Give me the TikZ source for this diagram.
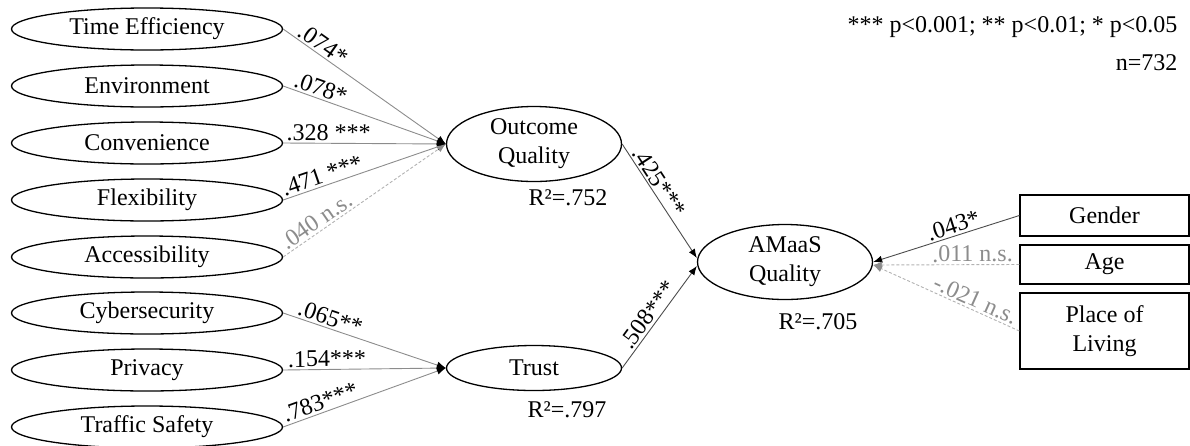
\documentclass[tikz,border=0pt]{standalone}
\usepackage{fontspec}
\setmainfont{Liberation Serif}
\usetikzlibrary{shapes.geometric,arrows.meta}
\begin{document}
\begin{tikzpicture}[x=1pt,y=-1pt,
  every node/.style={font=\fontsize{24}{29}\selectfont},
  lat/.style={ellipse,draw,line width=1.3pt,inner sep=0pt,minimum width=271pt,minimum height=42pt},
  big/.style={ellipse,draw,line width=1.3pt,inner sep=0pt,minimum width=175pt,minimum height=75pt,align=center},
  ctl/.style={rectangle,draw,line width=1.3pt,inner sep=0pt,minimum width=169pt,align=center},
  sig/.style={draw=black!45,line width=0.9pt,-{Latex[length=9pt,width=7pt,color=black]}},
  sigd/.style={draw=black!70,line width=0.9pt,-{Latex[length=9pt,width=7pt,color=black]}},
  ns/.style={draw=black!30,dash pattern=on 3pt off 2pt,line width=0.9pt,-{Latex[length=9pt,width=7pt,color=black!45]}},
  lab/.style={sloped,above,inner sep=2pt},
  nslab/.style={sloped,above,inner sep=2pt,text=black!45}
]
\useasboundingbox (0,0) rectangle (1190,445);

% left latent variables
\node[lat] (te) at (147,29)  {Time Efficiency};
\node[lat] (en) at (147,86)  {Environment};
\node[lat] (cv) at (147,143) {Convenience};
\node[lat] (fl) at (147,200) {Flexibility};
\node[lat] (ac) at (147,257) {Accessibility};
\node[lat] (cy) at (147,313) {Cybersecurity};
\node[lat] (pr) at (147,370) {Privacy};
\node[lat] (ts) at (147,427) {Traffic Safety};

% central constructs
\node[big] (oq) at (534,144) {Outcome\\Quality};
\node[ellipse,draw,line width=1.3pt,inner sep=0pt,minimum width=175pt,minimum height=45pt] (tr) at (534,368) {Trust};
\node[big] (am) at (785,262) {AMaaS\\Quality};

% controls
\node[ctl,minimum height=41pt] (ge) at (1104.5,215.5) {Gender};
\node[ctl,minimum height=39pt] (ag) at (1104.5,264.5) {Age};
\node[ctl,minimum height=76pt] (pl) at (1104.5,331) {Place of\\Living};

% R squared
\node (r1) at (568,198) {R²=.752};
\node (r2) at (567,410) {R²=.797};
\node (r3) at (818,322) {R²=.705};

% legend
\node[anchor=east] (leg1) at (1181,27) {*** p<0.001; ** p<0.01; * p<0.05};
\node[anchor=east] (leg2) at (1181,63) {n=732};

% paths to Outcome Quality
\draw[sig] (te.east) -- node[lab,pos=0.21] {.074*} (oq.west);
\draw[sig] (en.east) -- node[lab,pos=0.21] {.078*} (oq.west);
\draw[sig] (cv.east) -- node[lab,pos=0.28] {.328 ***} (oq.west);
\draw[sig] (fl.east) -- node[lab,pos=0.26] {.471 ***} (oq.west);
\draw[ns]  (ac.east) -- node[nslab,pos=0.24] {.040 n.s.} (oq.west);

% paths to Trust
\draw[sig] (cy.east) -- node[lab,pos=0.27] {.065**} (tr.west);
\draw[sig] (pr.east) -- node[lab,pos=0.27] {.154***} (tr.west);
\draw[sig] (ts.east) -- node[lab,pos=0.25] {.783***} (tr.west);

% to AMaaS
\draw[sigd] (oq.east) -- node[lab,pos=0.38] {.425***} ([yshift=4pt]am.west);
\draw[sigd] (tr.east) -- node[lab,pos=0.46] {.508***} ([yshift=-4pt]am.west);

% controls to AMaaS
\draw[sigd] (ge.west) -- node[lab,pos=0.43] {.043*} (am.east);
\draw[ns] (ag.west) -- node[nslab,pos=0.32] {.011 n.s.} ([yshift=-3pt]am.east);
\draw[ns] (pl.west) -- node[nslab,pos=0.33] {-.021 n.s.} ([yshift=-3pt]am.east);
\end{tikzpicture}
\end{document}
